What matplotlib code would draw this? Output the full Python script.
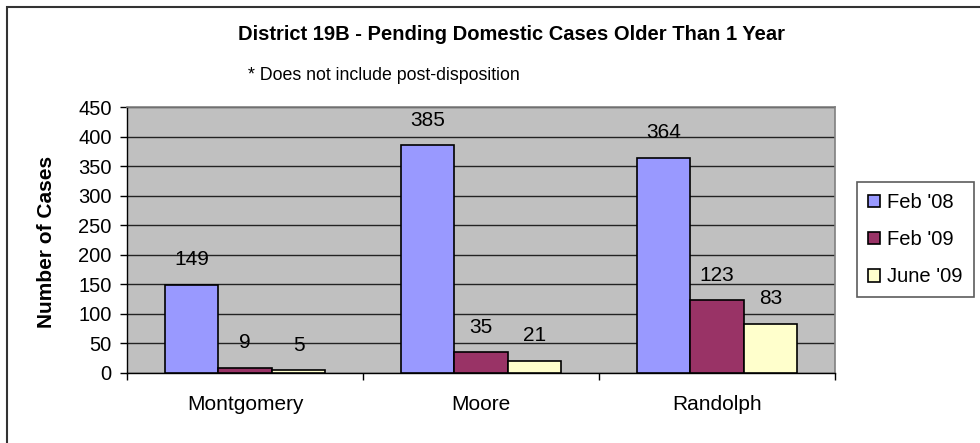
import matplotlib
matplotlib.use("Agg")
import matplotlib.pyplot as plt
from matplotlib.patches import Rectangle
import numpy as np

plt.rcParams['font.family'] = ['Liberation Sans', 'DejaVu Sans']

counties = ['Montgomery', 'Moore', 'Randolph']
series_names = ["Feb '08", "Feb '09", "June '09"]
feb08 = [149, 385, 364]
feb09 = [9, 35, 123]
june09 = [5, 21, 83]
colors = ['#9999FF', '#993366', '#FFFFCC']
yticks = [0, 50, 100, 150, 200, 250, 300, 350, 400, 450]

fig = plt.figure(figsize=(9.8, 4.43), dpi=100)
ax = fig.add_axes([127 / 980, 1 - 373 / 443, 708 / 980, 266 / 443])

# outer chart border (right/bottom fall off the image, as in the source)
fig.patches.append(Rectangle((7 / 980, -0.2), 1.2, 1.2 - 7 / 443, transform=fig.transFigure,
                             fill=False, edgecolor='#333333', linewidth=1.5))

centers = np.arange(len(counties)) + 0.5
width = 0.227
handles = []
for i, (vals, name, c) in enumerate(zip([feb08, feb09, june09], series_names, colors)):
    x = centers + (i - 1) * width
    b = ax.bar(x, vals, width, color=c, edgecolor='black', linewidth=1.2, label=name, zorder=3)
    handles.append(b)
    for xi, v in zip(x, vals):
        ax.annotate(str(v), (xi, v), xytext=(0, 18), textcoords='offset points',
                    ha='center', va='center', fontsize=15, zorder=4)

ax.set_facecolor('#C0C0C0')
ax.set_xlim(0, 3)
ax.set_ylim(0, 450)
ax.set_yticks(yticks)
ax.tick_params(axis='y', labelsize=14.5, length=5, width=1, direction='out', pad=6)
ax.yaxis.grid(True, color='#222222', linewidth=1, zorder=1)
ax.set_axisbelow(True)

ax.set_xticks([0, 1, 2, 3])
ax.set_xticklabels([])
ax.set_xticks(centers, minor=True)
ax.set_xticklabels(counties, minor=True, fontsize=15)
ax.tick_params(axis='x', which='major', length=5, width=1, direction='out')
ax.tick_params(axis='x', which='minor', length=0, pad=16)

for s in ['top', 'right']:
    ax.spines[s].set_color('#808080')
    ax.spines[s].set_linewidth(1.2)
for s in ['left', 'bottom']:
    ax.spines[s].set_color('black')
    ax.spines[s].set_linewidth(1)

fig.text(511 / 980, 1 - 35 / 443, 'District 19B - Pending Domestic Cases Older Than 1 Year',
         ha='center', va='center', fontsize=14.5, fontweight='bold')
fig.text(384 / 980, 1 - 75 / 443, '* Does not include post-disposition',
         ha='center', va='center', fontsize=12.8)
fig.text(47 / 980, 1 - 242 / 443, 'Number of Cases', rotation=90,
         ha='center', va='center', fontsize=15, fontweight='bold')

leg = fig.legend(handles=handles, loc='upper left', bbox_to_anchor=(857 / 980, 1 - 182 / 443),
                 fontsize=14.5, frameon=True, fancybox=False, edgecolor='#333333',
                 handlelength=0.6, handleheight=0.6, handletextpad=0.35,
                 labelspacing=0.9, borderpad=0.55, borderaxespad=0)
leg.get_frame().set_linewidth(1.2)

fig.savefig('out.png', dpi=100, facecolor='white')
